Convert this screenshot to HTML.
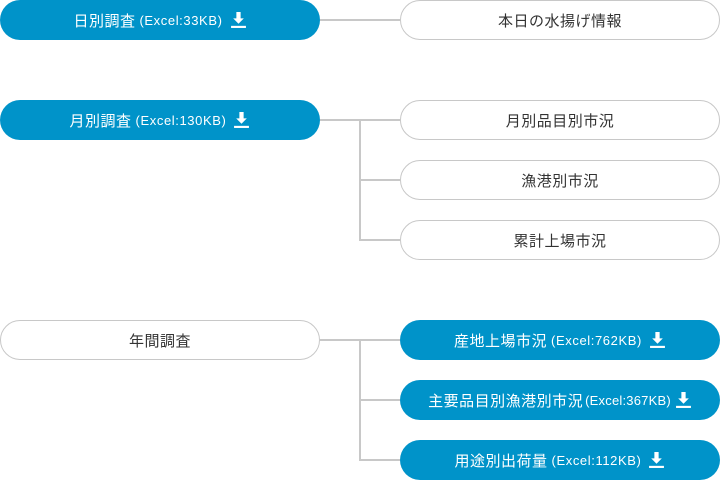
<!DOCTYPE html>
<html><head><meta charset="utf-8"><style>
body{margin:0;width:720px;height:480px;background:#fff;position:relative;overflow:hidden;font-family:"Liberation Sans","Noto Sans CJK JP",sans-serif}
.p{position:absolute;height:40px;width:320px;box-sizing:border-box;border-radius:20px;display:flex;align-items:center;justify-content:center;font-size:15px;letter-spacing:0.5px}
.b{background:#0093c9;color:#fff}
.w{background:#fff;border:1px solid #c8c8c8;color:#333}
.s{font-size:13px;margin-left:4px;letter-spacing:0.6px}
.h{position:absolute;height:2px;background:#c8c8c8}
.v{position:absolute;width:2px;background:#c8c8c8}
svg{margin-left:7px}
</style></head><body>
<div class="h" style="left:320px;top:19px;width:80px"></div>
<div class="h" style="left:320px;top:119px;width:80px"></div>
<div class="h" style="left:360px;top:179px;width:40px"></div>
<div class="h" style="left:360px;top:239px;width:40px"></div>
<div class="v" style="left:359px;top:119px;height:122px"></div>
<div class="h" style="left:320px;top:339px;width:80px"></div>
<div class="h" style="left:360px;top:399px;width:40px"></div>
<div class="h" style="left:360px;top:459px;width:40px"></div>
<div class="v" style="left:359px;top:339px;height:122px"></div>

<div class="p b" style="left:0;top:0">日別調査<span class="s">(Excel:33KB)</span><svg width="17" height="16" viewBox="0 0 16 15"><path d="M6 0h4v6h3l-5 5-5-5h3z" fill="#fff"/><rect x="1" y="13" width="14" height="2" fill="#fff"/></svg></div>
<div class="p w" style="left:400px;top:0">本日の水揚げ情報</div>
<div class="p b" style="left:0;top:100px">月別調査<span class="s">(Excel:130KB)</span><svg width="17" height="16" viewBox="0 0 16 15"><path d="M6 0h4v6h3l-5 5-5-5h3z" fill="#fff"/><rect x="1" y="13" width="14" height="2" fill="#fff"/></svg></div>
<div class="p w" style="left:400px;top:100px">月別品目別市況</div>
<div class="p w" style="left:400px;top:160px">漁港別市況</div>
<div class="p w" style="left:400px;top:220px">累計上場市況</div>
<div class="p w" style="left:0;top:320px">年間調査</div>
<div class="p b" style="left:400px;top:320px">産地上場市況<span class="s">(Excel:762KB)</span><svg width="17" height="16" viewBox="0 0 16 15"><path d="M6 0h4v6h3l-5 5-5-5h3z" fill="#fff"/><rect x="1" y="13" width="14" height="2" fill="#fff"/></svg></div>
<div class="p b" style="left:400px;top:380px">主要品目別漁港別市況<span class="s" style="margin-left:2px;letter-spacing:0.2px">(Excel:367KB)</span><svg width="17" height="16" viewBox="0 0 16 15" style="margin-left:4px"><path d="M6 0h4v6h3l-5 5-5-5h3z" fill="#fff"/><rect x="1" y="13" width="14" height="2" fill="#fff"/></svg></div>
<div class="p b" style="left:400px;top:440px">用途別出荷量<span class="s">(Excel:112KB)</span><svg width="17" height="16" viewBox="0 0 16 15"><path d="M6 0h4v6h3l-5 5-5-5h3z" fill="#fff"/><rect x="1" y="13" width="14" height="2" fill="#fff"/></svg></div>
</body></html>
